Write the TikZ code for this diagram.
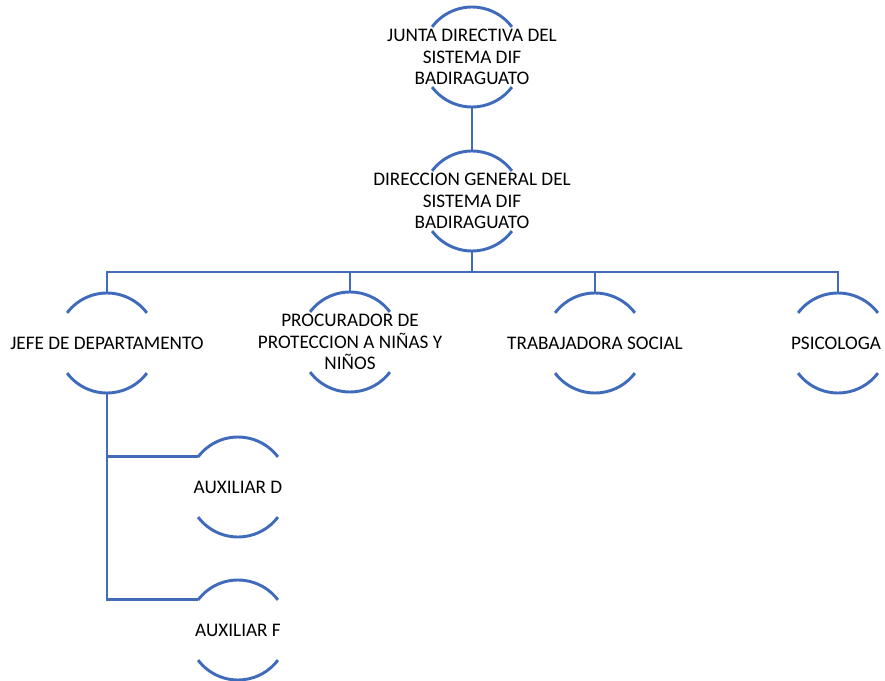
\documentclass[tikz,border=0pt]{standalone}
\usepackage{fontspec}
\setmainfont{Carlito}
\usepackage{tikz}

\begin{document}
\begin{tikzpicture}[x=0.75pt,y=0.75pt,yscale=-1,xscale=1,
  orgline/.style={color={rgb, 255:red, 64; green, 107; blue, 186 }, line width=2.2pt},
  unit/.style={inner sep=0.75pt, align=center, font=\fontsize{14.4}{16.2}\selectfont}]
\useasboundingbox (0,0) rectangle (885,681); %set diagram to 885 x 681

% Text Node
\node [unit] (junta) at (472,57) {JUNTA DIRECTIVA DEL\\SISTEMA DIF\\BADIRAGUATO};
% Text Node
\node [unit] (direccion) at (472,201) {DIRECCION GENERAL DEL\\SISTEMA DIF\\BADIRAGUATO};
% Text Node
\node [unit] (jefe) at (107,343) {JEFE DE DEPARTAMENTO};
% Text Node
\node [unit] (procurador) at (350,342) {PROCURADOR DE\\PROTECCION A NIÑAS Y\\NIÑOS};
% Text Node
\node [unit] (trabajadora) at (595,343) {TRABAJADORA SOCIAL};
% Text Node
\node [unit] (psicologa) at (836,343) {PSICOLOGA};
% Text Node
\node [unit] (auxd) at (238,487) {AUXILIAR D};
% Text Node
\node [unit] (auxf) at (238,630) {AUXILIAR F};

%Shape: Arcs
\foreach \n/\cx in {junta/472,direccion/472,jefe/107,procurador/350,trabajadora/595,psicologa/838,auxd/238,auxf/238}{
  \coordinate (\n-c) at (\cx,0 |- \n.center);
  \draw [orgline] ([shift={(-143:50)}]\n-c) arc (-143:-37:50);
  \draw [orgline] ([shift={(143:50)}]\n-c) arc (143:37:50);
  \coordinate (\n-top) at ([shift={(0,-50)}]\n-c);
  \coordinate (\n-bot) at ([shift={(0,50)}]\n-c);
  \coordinate (\n-left) at ([shift={(-143:50)}]\n-c);
}

%Shape: Connectors
\draw [orgline] (junta-bot) -- (direccion-top);
\coordinate (bus) at ([shift={(0,21)}]direccion-bot);
\draw [orgline] (direccion-bot) -- (bus);
\foreach \n in {jefe,procurador,trabajadora,psicologa}{
  \draw [orgline] (bus) -| (\n-top);
}
\draw [orgline] (jefe-bot) |- (auxd-left);
\draw [orgline] (jefe-bot) |- (auxf-left);

\end{tikzpicture}
\end{document}
